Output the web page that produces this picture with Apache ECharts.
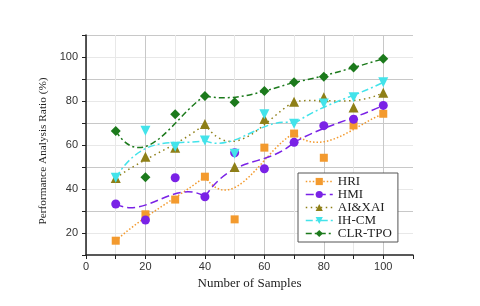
<!DOCTYPE html>
<html><head><meta charset="utf-8">
<script src="https://cdn.jsdelivr.net/npm/echarts@6/dist/echarts.min.js"></script>
<style>html,body{margin:0;padding:0;background:#fff}#c{width:480px;height:306px}</style>
</head><body><div id="c"></div>
<script>
const samples = [10, 20, 30, 40, 50, 60, 70, 80, 90, 100];
const hri    = [16.5, 28.5, 35.2, 45.6, 26.2, 58.8, 65.2, 54.2, 68.9, 74.2];
const hmi    = [33.2, 25.9, 45.1, 36.5, 56.5, 49.2, 61.2, 68.8, 71.7, 78.0];
const aixai  = [45.0, 54.7, 58.8, 69.5, 50.0, 71.8, 79.7, 81.7, 77.1, 83.8];
const ihcm   = [45.1, 66.5, 59.2, 62.0, 56.0, 74.0, 69.7, 78.9, 81.7, 88.5];
const clrtpo = [66.4, 45.3, 74.0, 82.3, 79.4, 84.5, 88.5, 91.0, 95.2, 99.2];
const names  = ['HRI', 'HMI', 'AI&XAI', 'IH-CM', 'CLR-TPO'];
const xTickLabels = [0, 20, 40, 60, 80, 100];
const yTickLabels = [20, 40, 60, 80, 100];

const serieVals = [hri, hmi, aixai, ihcm, clrtpo];
const colors = ['#F39A2E', '#7A22E6', '#8E7F17', '#43E3EA', '#1C7A1C'];
const symbols = ['rect', 'circle', 'triangle', 'triangle', 'diamond'];
const symRot = [0, 0, 0, 180, 0];
const symSize = [8, 9, 10, 10, 10];
const dashes = [[1.5, 2], [8, 4], [1.5, 3.5], [7, 3, 2, 3], [6, 3, 2, 3]];

const chart = echarts.init(document.getElementById('c'), null, {renderer: 'canvas'});
const series = [];
serieVals.forEach((vals, s) => {
  series.push({
    name: names[s] + '_curve',
    type: 'custom',
    z: 1,
    silent: true,
    data: samples.map((x, i) => [x, vals[i]]),
    encode: {x: 0, y: 1},
    renderItem: function (params, api) {
      const i = params.dataIndex;
      if (i % 3 !== 0 || i + 3 >= samples.length) return null;
      const p = [0, 1, 2, 3].map(k => api.coord([samples[i + k], vals[i + k]]));
      return {
        type: 'bezierCurve',
        shape: {x1: p[0][0], y1: p[0][1], cpx1: p[1][0], cpy1: p[1][1],
                cpx2: p[2][0], cpy2: p[2][1], x2: p[3][0], y2: p[3][1]},
        style: {stroke: colors[s], fill: null, lineWidth: 1.5, lineDash: dashes[s]}
      };
    }
  });
  series.push({
    name: names[s],
    type: 'line',
    z: 3,
    data: samples.map((x, i) => [x, vals[i]]),
    symbol: symbols[s],
    symbolRotate: symRot[s],
    symbolSize: symSize[s],
    showAllSymbol: true,
    itemStyle: {color: colors[s], opacity: 1},
    lineStyle: {opacity: 0, color: colors[s]}
  });
});

chart.setOption({
  animation: false,
  grid: {left: 86, right: 67, top: 35, bottom: 51},
  xAxis: {
    type: 'value', min: 0, max: 110, interval: 10,
    name: 'Number of Samples', nameLocation: 'middle', nameGap: 22,
    nameTextStyle: {fontFamily: 'Liberation Serif', fontSize: 13, color: '#222'},
    axisLine: {lineStyle: {color: '#222', width: 1.5}},
    axisTick: {inside: false, length: 4, lineStyle: {color: '#222'}},
    axisLabel: {fontFamily: 'Liberation Sans', fontSize: 11, color: '#333', margin: 6,
      formatter: v => xTickLabels.indexOf(v) >= 0 ? String(v) : ''},
    splitLine: {show: true, showMaxLine: false, lineStyle: {color: ['#c8c8c8', '#e8e8e8'], width: 1}}
  },
  yAxis: {
    type: 'value', min: 10, max: 110, interval: 10,
    name: 'Performance Analysis Ratio (%)', nameLocation: 'middle', nameGap: 36,
    nameTextStyle: {fontFamily: 'Liberation Serif', fontSize: 11.3, color: '#222', padding: [0, 12, 0, 0]},
    axisLine: {show: true, lineStyle: {color: '#222', width: 1.5}},
    axisTick: {show: true, length: 4, lineStyle: {color: '#222'}},
    axisLabel: {fontFamily: 'Liberation Sans', fontSize: 11, color: '#333', margin: 8,
      formatter: v => yTickLabels.indexOf(v) >= 0 ? String(v) : ''},
    splitLine: {show: true, showMinLine: false, lineStyle: {color: ['#e8e8e8', '#c8c8c8'], width: 1}}
  },
  legend: {
    orient: 'vertical', left: 298, top: 173,
    backgroundColor: '#fff',
    borderColor: '#555', borderWidth: 1, borderRadius: 0,
    padding: [2, 6, 2, 7], itemGap: 0, itemWidth: 27, itemHeight: 9,
    textStyle: {fontFamily: 'Liberation Serif', fontSize: 13, lineHeight: 13, color: '#222'},
    data: names.map((n, s) => ({
      name: n,
      lineStyle: {opacity: 1, color: colors[s], width: 1.5, type: dashes[s]}
    }))
  },
  series: series
});
</script></body></html>
